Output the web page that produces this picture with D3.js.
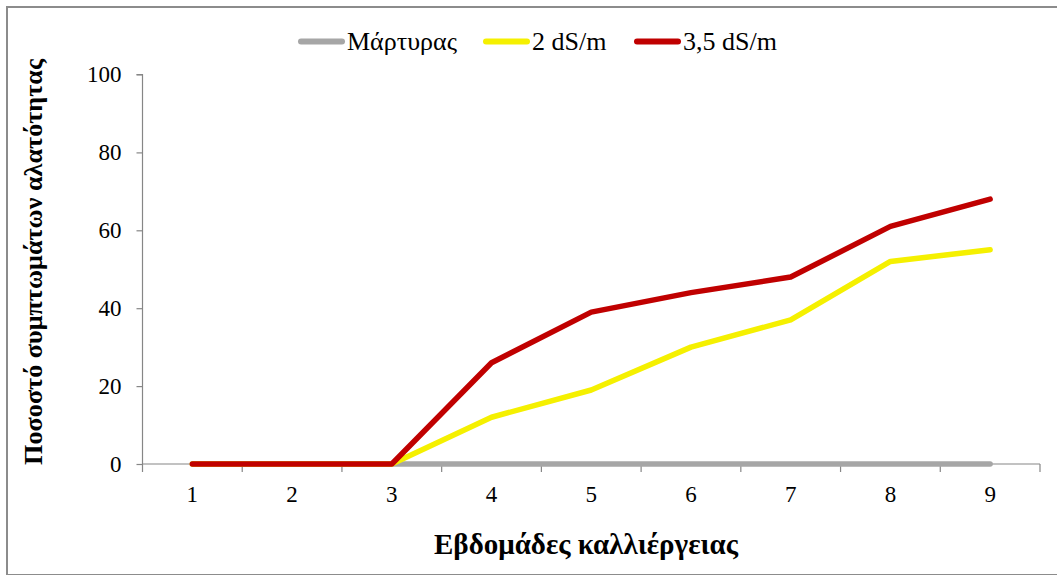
<!DOCTYPE html>
<html>
<head>
<meta charset="utf-8">
<script src="https://cdn.jsdelivr.net/npm/d3@7/dist/d3.min.js"></script>
<style>
  html, body { margin: 0; padding: 0; background: #fff; }
  svg { display: block; }
</style>
</head>
<body>
<svg id="chart" width="1057" height="575"></svg>
<script>
// Weeks of cultivation and the share of plants showing salinity symptoms (%)
const weeks = ["1", "2", "3", "4", "5", "6", "7", "8", "9"];
const control = [0, 0, 0, 0, 0, 0, 0, 0, 0];
const ec2 = [0, 0, 0, 12, 19, 30, 37, 52, 55];
const ec35 = [0, 0, 0, 26, 39, 44, 48, 61, 68];
const seriesNames = ["Μάρτυρας", "2 dS/m", "3,5 dS/m"];
const seriesColors = ["#A6A6A6", "#F5F000", "#C00000"];
const yTicks = [0, 20, 40, 60, 80, 100];

const FONT = "Tinos, 'Times New Roman', serif";

const series = [control, ec2, ec35].map((values, i) => ({
  name: seriesNames[i], color: seriesColors[i], values
}));

const svg = d3.select("#chart")
  .attr("font-family", FONT);
const W = 1057, H = 575;

// outer frame
svg.append("rect")
  .attr("x", 7).attr("y", 7).attr("width", W + 10).attr("height", 568)
  .attr("fill", "#fff").attr("stroke", "#8c8c8c").attr("stroke-width", 2);

const plot = { left: 142.5, right: 1040, top: 74.5, bottom: 464 };

const x = d3.scaleBand().domain(weeks).range([plot.left, plot.right]);
const y = d3.scaleLinear().domain([0, 100]).range([plot.bottom, plot.top]);

// y axis
const yAxis = svg.append("g")
  .attr("transform", `translate(${plot.left},0)`)
  .call(d3.axisLeft(y).tickValues(yTicks).tickSize(6).tickPadding(15))
  .attr("font-family", FONT).attr("font-size", 23);
yAxis.select(".domain").attr("stroke", "#868686").attr("stroke-width", 1.2)
  .attr("d", `M-6,${plot.top}H0V${plot.bottom}`);
yAxis.selectAll(".tick line").attr("stroke", "#868686").attr("stroke-width", 1.2);
yAxis.selectAll(".tick text").attr("fill", "#000");

// x axis: ticks at category boundaries, labels centred in each band
const xAxisG = svg.append("g").attr("transform", `translate(0,${plot.bottom})`)
  .attr("font-family", FONT).attr("font-size", 23);
xAxisG.append("line")
  .attr("x1", plot.left).attr("x2", plot.right).attr("y1", 0).attr("y2", 0)
  .attr("stroke", "#868686").attr("stroke-width", 1.2);
const boundaries = weeks.map(w => x(w)).concat([plot.right]);
xAxisG.selectAll("line.tick").data(boundaries).join("line")
  .attr("class", "tick")
  .attr("x1", d => d).attr("x2", d => d).attr("y1", 0).attr("y2", 8)
  .attr("stroke", "#868686").attr("stroke-width", 1.2);
xAxisG.selectAll("text.lbl").data(weeks).join("text")
  .attr("class", "lbl")
  .attr("x", d => x(d) + x.bandwidth() / 2).attr("y", 38)
  .attr("text-anchor", "middle").attr("fill", "#000")
  .text(d => d);

// series lines
const line = d3.line()
  .x((d, i) => x(weeks[i]) + x.bandwidth() / 2)
  .y(d => y(d));
svg.append("g").selectAll("path").data(series).join("path")
  .attr("d", d => line(d.values))
  .attr("fill", "none").attr("stroke", d => d.color)
  .attr("stroke-width", 5.5).attr("stroke-linejoin", "round").attr("stroke-linecap", "round");

// legend
const legendX = [298, 483, 634];
const legend = svg.append("g").attr("font-size", 26)
  .selectAll("g").data(series).join("g")
  .attr("transform", (d, i) => `translate(${legendX[i]},41.5)`);
legend.append("line")
  .attr("x1", 3).attr("x2", 44).attr("y1", 0).attr("y2", 0)
  .attr("stroke", d => d.color).attr("stroke-width", 6).attr("stroke-linecap", "round");
legend.append("text")
  .attr("x", 49).attr("y", 8.5).attr("fill", "#000")
  .text(d => d.name);

// axis titles
svg.append("text")
  .attr("x", 586).attr("y", 554)
  .attr("text-anchor", "middle").attr("font-size", 29).attr("font-weight", "bold")
  .text("Εβδομάδες καλλιέργειας");
svg.append("text")
  .attr("transform", `translate(42,262) rotate(-90)`)
  .attr("text-anchor", "middle").attr("font-size", 26.2).attr("font-weight", "bold")
  .text("Ποσοστό συμπτωμάτων αλατότητας");
</script>
</body>
</html>
